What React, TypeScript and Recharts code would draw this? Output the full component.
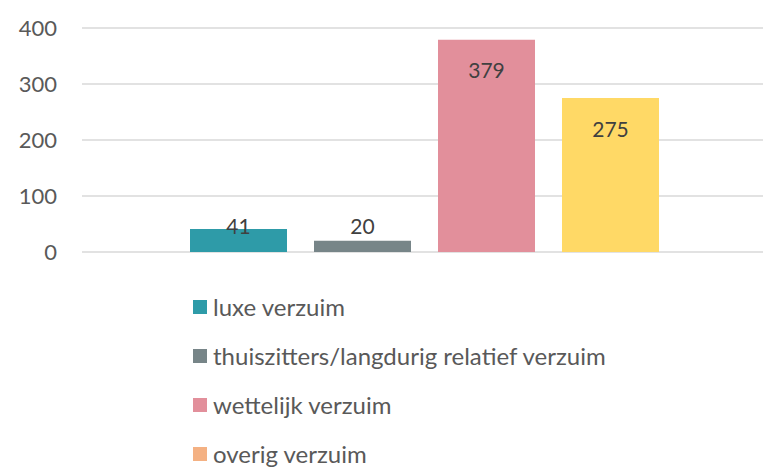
import React from 'react';
import { BarChart, Bar, XAxis, YAxis, CartesianGrid, LabelList } from 'recharts';

const seriesKeys = ['luxe', 'thuis', 'wettelijk', 'overig'];
const seriesNames = [
  'luxe verzuim',
  'thuiszitters/langdurig relatief verzuim',
  'wettelijk verzuim',
  'overig verzuim',
];
const seriesValues = [41, 20, 379, 275];
const barColors = ['#2E9BA8', '#778588', '#E28F9B', '#FFD966'];
const legendColors = ['#2E9BA8', '#778588', '#E28F9B', '#F4B183'];
const yTicks = [0, 100, 200, 300, 400];

const row: Record<string, string | number> = { name: 'verzuim' };
seriesKeys.forEach((k, i) => {
  row[k] = seriesValues[i];
});
const data = [row];

const FONT = 'Lato, "Open Sans", sans-serif';

// big bars get the label inside the top, small ones sit just above the base
const renderValue = (props: any) => {
  const { x, y, width, height, value } = props;
  const cy = Math.min(y + 30, y + height - 27);
  return (
    <text
      x={x + width / 2}
      y={cy}
      textAnchor="middle"
      dominantBaseline="central"
      fill="#404040"
      fontSize={21}
      fontFamily={FONT}
    >
      {value}
    </text>
  );
};

const ChartLegend = () => (
  <div
    style={{
      position: 'absolute',
      left: 193,
      top: 282,
      fontFamily: FONT,
      fontSize: 24,
      color: '#595959',
    }}
  >
    {seriesNames.map((name, i) => (
      <div key={name} style={{ display: 'flex', alignItems: 'center', height: 49, whiteSpace: 'nowrap' }}>
        <span
          style={{
            display: 'inline-block',
            width: 14,
            height: 14,
            background: legendColors[i],
            marginRight: 6,
          }}
        />
        {name}
      </div>
    ))}
  </div>
);

export default function App() {
  return (
    <div style={{ position: 'absolute', left: 0, top: 0, width: 763, height: 467, overflow: 'hidden', background: '#fff' }}>
      <BarChart
        width={770}
        height={467}
        data={data}
        margin={{ top: 28, right: 4, bottom: 215, left: 0 }}
        barSize={97}
        barGap={27}
      >
        <CartesianGrid vertical={false} stroke="#D9D9D9" strokeWidth={1.5} />
        <XAxis dataKey="name" hide />
        <YAxis
          width={82}
          domain={[0, 400]}
          ticks={yTicks}
          axisLine={false}
          tickLine={false}
          tickSize={0}
          tickMargin={25}
          tick={{ fill: '#595959', fontSize: 22, fontFamily: FONT }}
        />
        {seriesKeys.map((k, i) => (
          <Bar key={k} dataKey={k} name={seriesNames[i]} fill={barColors[i]} isAnimationActive={false}>
            <LabelList dataKey={k} content={renderValue} />
          </Bar>
        ))}
      </BarChart>
      <ChartLegend />
    </div>
  );
}
